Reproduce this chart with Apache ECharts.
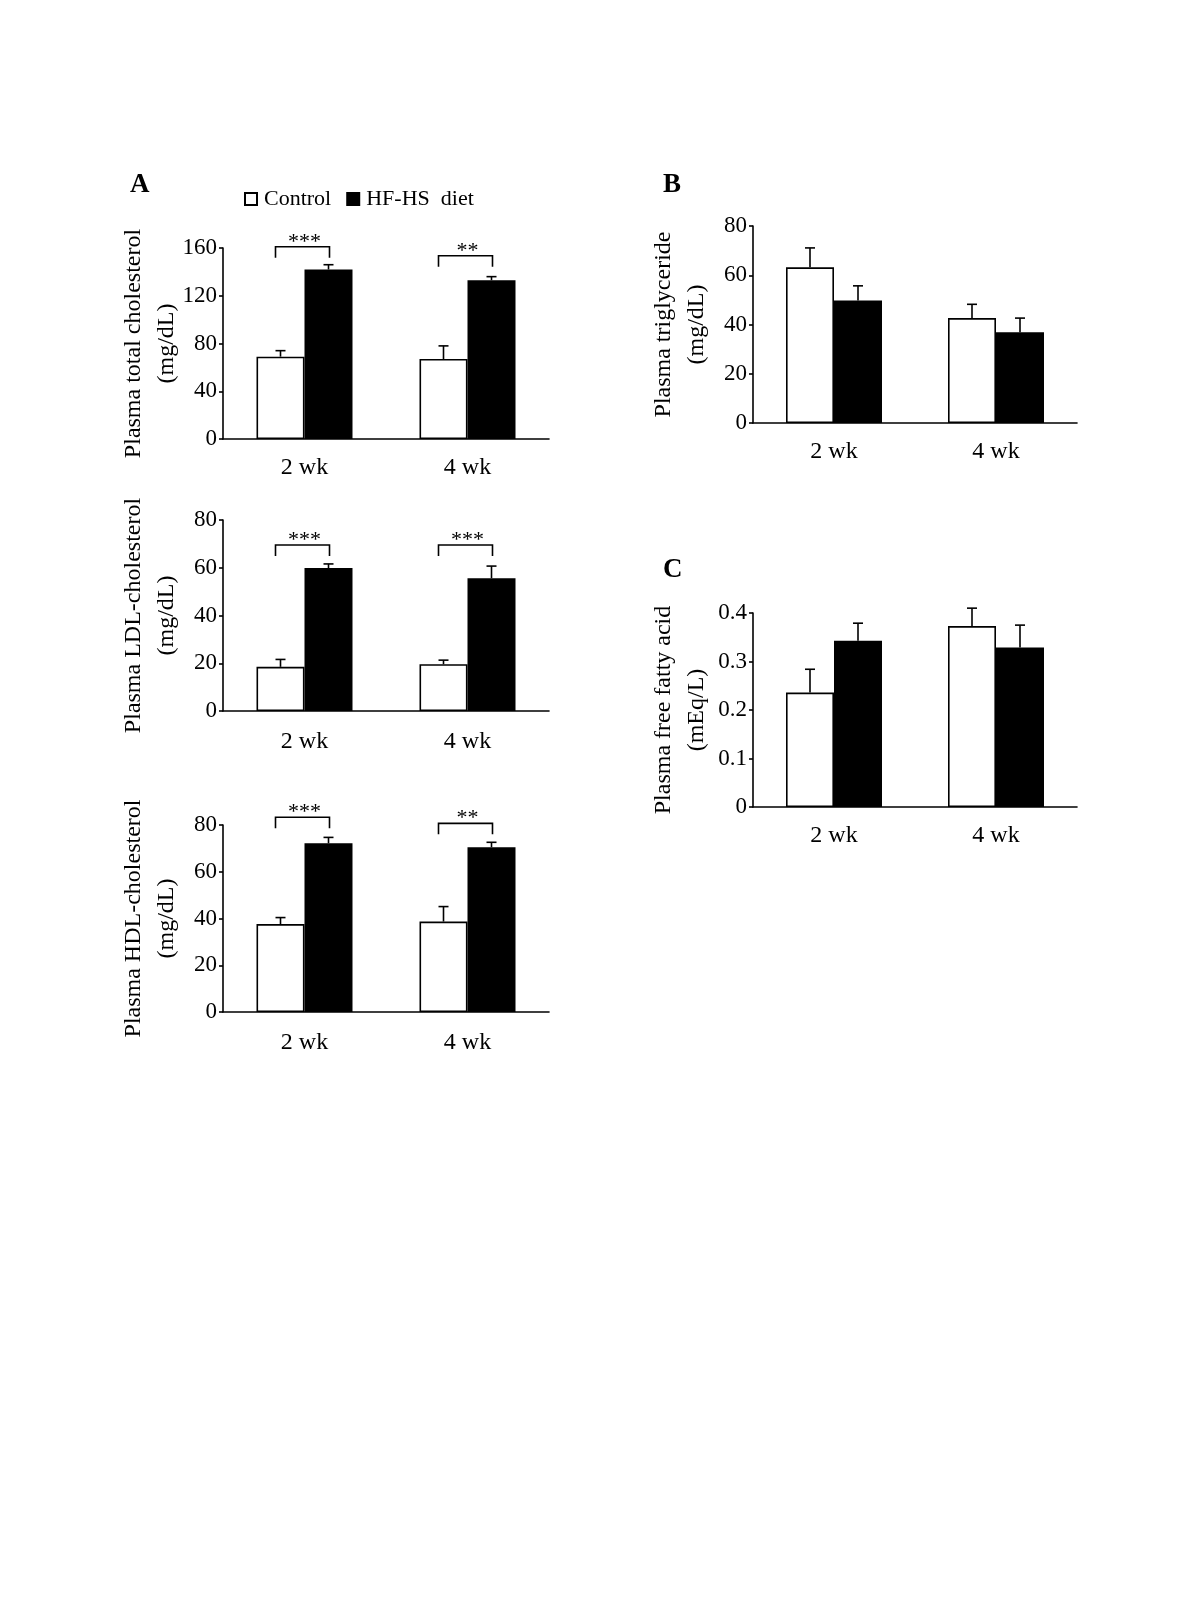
<!DOCTYPE html>
<html>
<head>
<meta charset="utf-8">
<script src="https://cdn.jsdelivr.net/npm/echarts@6/dist/echarts.min.js"></script>
<style>
html,body{margin:0;padding:0;background:#fff;}
#chart{width:1200px;height:1600px;}
</style>
</head>
<body>
<div id="chart"></div>
<script>
// ---------- data ----------
const categories = ['2 wk', '4 wk'];
const seriesNames = ['Control', 'HF-HS  diet'];

// A: plasma total cholesterol (mg/dL)
const tcControl = [69, 67];
const tcControlSem = [5, 11];
const tcHfhs = [142, 133];
const tcHfhsSem = [4, 3];
const tcSig = ['***', '**'];
const tcSigLevel = [161, 153.5];

// A: plasma LDL-cholesterol (mg/dL)
const ldlControl = [18.5, 19.6];
const ldlControlSem = [3.1, 1.7];
const ldlHfhs = [59.9, 55.6];
const ldlHfhsSem = [1.7, 5.1];
const ldlSig = ['***', '***'];
const ldlSigLevel = [69.5, 69.5];

// A: plasma HDL-cholesterol (mg/dL)
const hdlControl = [37.6, 38.7];
const hdlControlSem = [2.8, 6.4];
const hdlHfhs = [72.2, 70.5];
const hdlHfhsSem = [2.5, 2.1];
const hdlSig = ['***', '**'];
const hdlSigLevel = [83.3, 80.7];

// B: plasma triglyceride (mg/dL)
const tgControl = [63.2, 42.6];
const tgControlSem = [7.9, 5.6];
const tgHfhs = [49.7, 36.9];
const tgHfhsSem = [6.0, 5.7];

// C: plasma free fatty acid (mEq/L)
const ffaControl = [0.236, 0.373];
const ffaControlSem = [0.048, 0.037];
const ffaHfhs = [0.343, 0.329];
const ffaHfhsSem = [0.036, 0.046];

// ---------- styling ----------
const FONT = '"Liberation Serif", "DejaVu Serif", serif';
const BAR_W = 48;
const CAP = 5;
const LW = 1.6;

const grids = [
  {left: 223, top: 248, width: 326, height: 191},
  {left: 223, top: 520, width: 326, height: 191},
  {left: 223, top: 825, width: 326, height: 187},
  {left: 753, top: 226, width: 324, height: 197},
  {left: 753, top: 613, width: 324, height: 194}
];

const panels = [
  {name: 'Plasma total cholesterol\n(mg/dL)', max: 160, interval: 40, ctrl: tcControl, ctrlSem: tcControlSem, hf: tcHfhs, hfSem: tcHfhsSem, sig: tcSig, sigLevel: tcSigLevel, labelMargin: 17},
  {name: 'Plasma LDL-cholesterol\n(mg/dL)', max: 80, interval: 20, ctrl: ldlControl, ctrlSem: ldlControlSem, hf: ldlHfhs, hfSem: ldlHfhsSem, sig: ldlSig, sigLevel: ldlSigLevel, labelMargin: 19},
  {name: 'Plasma HDL-cholesterol\n(mg/dL)', max: 80, interval: 20, ctrl: hdlControl, ctrlSem: hdlControlSem, hf: hdlHfhs, hfSem: hdlHfhsSem, sig: hdlSig, sigLevel: hdlSigLevel, labelMargin: 19},
  {name: 'Plasma triglyceride\n(mg/dL)', max: 80, interval: 20, ctrl: tgControl, ctrlSem: tgControlSem, hf: tgHfhs, hfSem: tgHfhsSem, labelMargin: 17},
  {name: 'Plasma free fatty acid\n(mEq/L)', max: 0.4, interval: 0.1, ctrl: ffaControl, ctrlSem: ffaControlSem, hf: ffaHfhs, hfSem: ffaHfhsSem, labelMargin: 17}
];

function errRender(sign) {
  return function (params, api) {
    const cat = api.value(0), val = api.value(1), err = api.value(2);
    const base = api.coord([cat, val]);
    const top = api.coord([cat, val + err]);
    const x = base[0] + sign * BAR_W / 2;
    return {
      type: 'group',
      children: [
        {type: 'line', shape: {x1: x, y1: base[1], x2: x, y2: top[1]}, style: {stroke: '#000', lineWidth: LW}},
        {type: 'line', shape: {x1: x - CAP, y1: top[1], x2: x + CAP, y2: top[1]}, style: {stroke: '#000', lineWidth: LW}}
      ]
    };
  };
}

function sigRender(labels) {
  return function (params, api) {
    const cat = api.value(0), lvl = api.value(1);
    const p = api.coord([cat, lvl]);
    const xl = p[0] - BAR_W / 2 - 5, xr = p[0] + BAR_W / 2 + 1;
    const y = p[1], drop = 11;
    return {
      type: 'group',
      children: [
        {type: 'polyline', shape: {points: [[xl, y + drop], [xl, y], [xr, y], [xr, y + drop]]}, style: {stroke: '#000', lineWidth: LW, fill: null}},
        {type: 'text', x: p[0], y: y - 5, style: {text: labels[params.dataIndex], fill: '#000', font: '22px ' + FONT, textAlign: 'center', textVerticalAlign: 'middle'}}
      ]
    };
  };
}

const xAxes = [], yAxes = [], series = [];
panels.forEach(function (pn, i) {
  xAxes.push({
    type: 'category', gridIndex: i, data: categories,
    axisLine: {lineStyle: {color: '#000', width: LW}},
    axisTick: {show: false},
    axisLabel: {color: '#000', fontSize: 24, fontFamily: FONT, margin: pn.labelMargin}
  });
  yAxes.push({
    type: 'value', gridIndex: i, min: 0, max: pn.max, interval: pn.interval,
    name: pn.name, nameLocation: 'middle', nameRotate: 90, nameGap: 40,
    nameMoveOverlap: false,
    nameTextStyle: {color: '#000', fontSize: 24, fontFamily: FONT, lineHeight: 33},
    axisLine: {show: true, lineStyle: {color: '#000', width: LW}},
    axisTick: {show: true, length: 4, lineStyle: {color: '#000', width: LW}},
    axisLabel: {color: '#000', fontSize: 23, fontFamily: FONT, margin: 6},
    splitLine: {show: false}
  });
  series.push({
    name: seriesNames[0], type: 'bar', xAxisIndex: i, yAxisIndex: i,
    data: pn.ctrl, barWidth: BAR_W, barGap: '0%',
    itemStyle: {color: '#fff', borderColor: '#000', borderWidth: LW}
  });
  series.push({
    name: seriesNames[1], type: 'bar', xAxisIndex: i, yAxisIndex: i,
    data: pn.hf, barWidth: BAR_W, barGap: '0%',
    itemStyle: {color: '#000', borderColor: '#000', borderWidth: LW}
  });
  series.push({
    type: 'custom', xAxisIndex: i, yAxisIndex: i, clip: false, z: 5,
    renderItem: errRender(-1), encode: {x: 0, y: 1},
    data: pn.ctrl.map(function (v, k) { return [k, v, pn.ctrlSem[k]]; })
  });
  series.push({
    type: 'custom', xAxisIndex: i, yAxisIndex: i, clip: false, z: 5,
    renderItem: errRender(1), encode: {x: 0, y: 1},
    data: pn.hf.map(function (v, k) { return [k, v, pn.hfSem[k]]; })
  });
  if (pn.sig) {
    series.push({
      type: 'custom', xAxisIndex: i, yAxisIndex: i, clip: false, z: 5,
      renderItem: sigRender(pn.sig), encode: {x: 0, y: 1},
      data: pn.sigLevel.map(function (v, k) { return [k, v]; })
    });
  }
});

const chart = echarts.init(document.getElementById('chart'), null, {renderer: 'canvas'});
chart.setOption({
  backgroundColor: '#fff',
  animation: false,
  title: [
    {text: 'A', left: 125, top: 167, textStyle: {fontSize: 27, fontWeight: 'bold', fontFamily: FONT, color: '#000'}},
    {text: 'B', left: 658, top: 167, textStyle: {fontSize: 27, fontWeight: 'bold', fontFamily: FONT, color: '#000'}},
    {text: 'C', left: 658, top: 552, textStyle: {fontSize: 27, fontWeight: 'bold', fontFamily: FONT, color: '#000'}}
  ],
  legend: {
    data: seriesNames, left: 239, top: 183, icon: 'rect',
    itemWidth: 12, itemHeight: 12, itemGap: 15,
    selectedMode: false,
    textStyle: {fontSize: 22, fontFamily: FONT, color: '#000', padding: [0, 0, 0, 2]}
  },
  grid: grids,
  xAxis: xAxes,
  yAxis: yAxes,
  series: series
});
</script>
</body>
</html>
